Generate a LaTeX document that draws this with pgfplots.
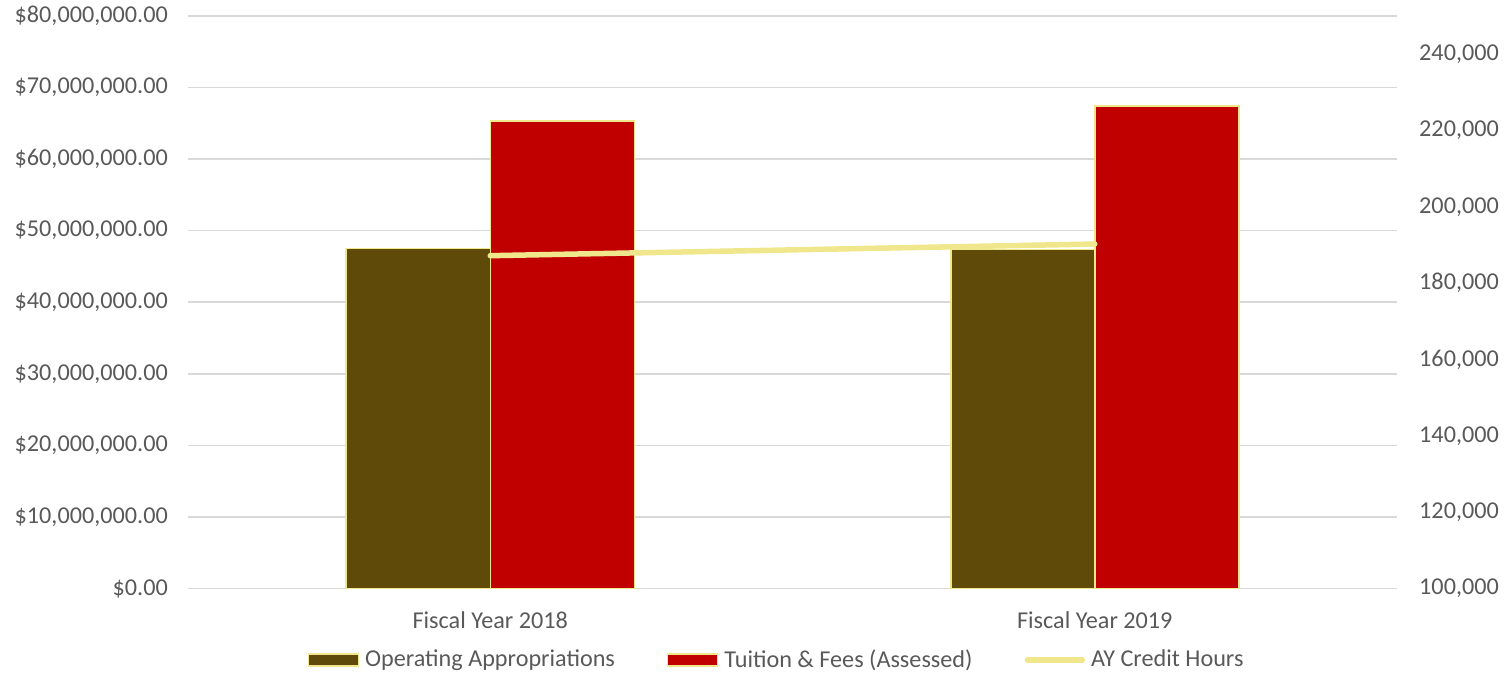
\documentclass[border=0pt]{standalone}
\usepackage{pgfplots}
\pgfplotsset{compat=1.18}
\usepackage{fontspec}
\setmainfont{Carlito}
\definecolor{opcol}{HTML}{604A0A}
\definecolor{tucol}{HTML}{C00000}
\definecolor{khaki}{HTML}{F0E68C}
\definecolor{gridc}{HTML}{D9D9D9}
\definecolor{txt}{HTML}{595959}
\newcommand{\chartfont}{\fontsize{24.2bp}{29bp}\selectfont}
\pgfplotsset{
  boxlegend/.style={legend image code/.code={\draw[##1] (0bp,-6bp) rectangle (50bp,6bp);}},
  linelegend/.style={legend image code/.code={\draw[##1] (0bp,0bp) -- (55bp,0bp);}},
}
\begin{document}
\chartfont
\begin{tikzpicture}
\useasboundingbox (-188bp,-85.5bp) rectangle (1318bp,588.5bp);
\begin{axis}[
  at={(0,0)}, anchor=south west,
  scale only axis, width=1209bp, height=572.5bp,
  xmin=-0.5, xmax=1.5, ymin=0, ymax=80000000,
  ybar, bar width=144bp,
  xtick={0,1}, xticklabels={Fiscal Year 2018, Fiscal Year 2019},
  ytick={0,10000000,20000000,30000000,40000000,50000000,60000000,70000000,80000000},
  yticklabels={{\$0.00},{\$10,000,000.00},{\$20,000,000.00},{\$30,000,000.00},{\$40,000,000.00},{\$50,000,000.00},{\$60,000,000.00},{\$70,000,000.00},{\$80,000,000.00}},
  scaled y ticks=false,
  /pgf/number format/assume math mode=true,
  axis line style={draw=none},
  major tick length=0pt,
  ymajorgrids, major grid style={gridc, line width=1.6bp},
  tick label style={text=txt, font=\chartfont, inner sep=0pt},
  yticklabel style={anchor=east},
  xticklabel style={anchor=north},
  yticklabel shift=20bp,
  xticklabel shift=23bp,
  clip=false,
]
\addplot[fill=opcol, draw=khaki, line width=1.5bp, bar shift=-72bp] coordinates {(0,47500000) (1,47400000)};
\addplot[fill=tucol, draw=khaki, line width=1.5bp, bar shift=72bp] coordinates {(0,65300000) (1,67400000)};
\end{axis}
\begin{axis}[
  at={(0,0)}, anchor=south west,
  scale only axis, width=1209bp, height=572.5bp,
  xmin=-0.5, xmax=1.5, ymin=100000, ymax=250000,
  axis x line=none, axis y line*=right,
  ytick={100000,120000,140000,160000,180000,200000,220000,240000},
  yticklabels={{100,000},{120,000},{140,000},{160,000},{180,000},{200,000},{220,000},{240,000}},
  scaled y ticks=false,
  /pgf/number format/assume math mode=true,
  axis line style={draw=none},
  major tick length=0pt,
  tick label style={text=txt, font=\chartfont, inner sep=0pt},
  yticklabel style={anchor=west},
  yticklabel shift=22bp,
  clip=false,
  legend columns=3,
  legend style={draw=none, fill=none, at={(axis description cs:0.486,-0.125)}, anchor=center,
    font=\chartfont, text=txt,
    cells={anchor=west}, inner sep=0pt,
    nodes={inner sep=0pt},
    /tikz/every odd column/.style={column sep=6bp},
    /tikz/every even column/.style={column sep=52bp}},
]
\addlegendimage{fill=opcol, draw=khaki, line width=1.5bp, boxlegend}
\addlegendentry{Operating Appropriations}
\addlegendimage{fill=tucol, draw=khaki, line width=1.5bp, boxlegend}
\addlegendentry{Tuition \& Fees (Assessed)}
\addplot[khaki, line width=5.5bp, line cap=round, linelegend] coordinates {(0,187200) (1,190250)};
\addlegendentry{AY Credit Hours}
\end{axis}
\end{tikzpicture}
\end{document}
